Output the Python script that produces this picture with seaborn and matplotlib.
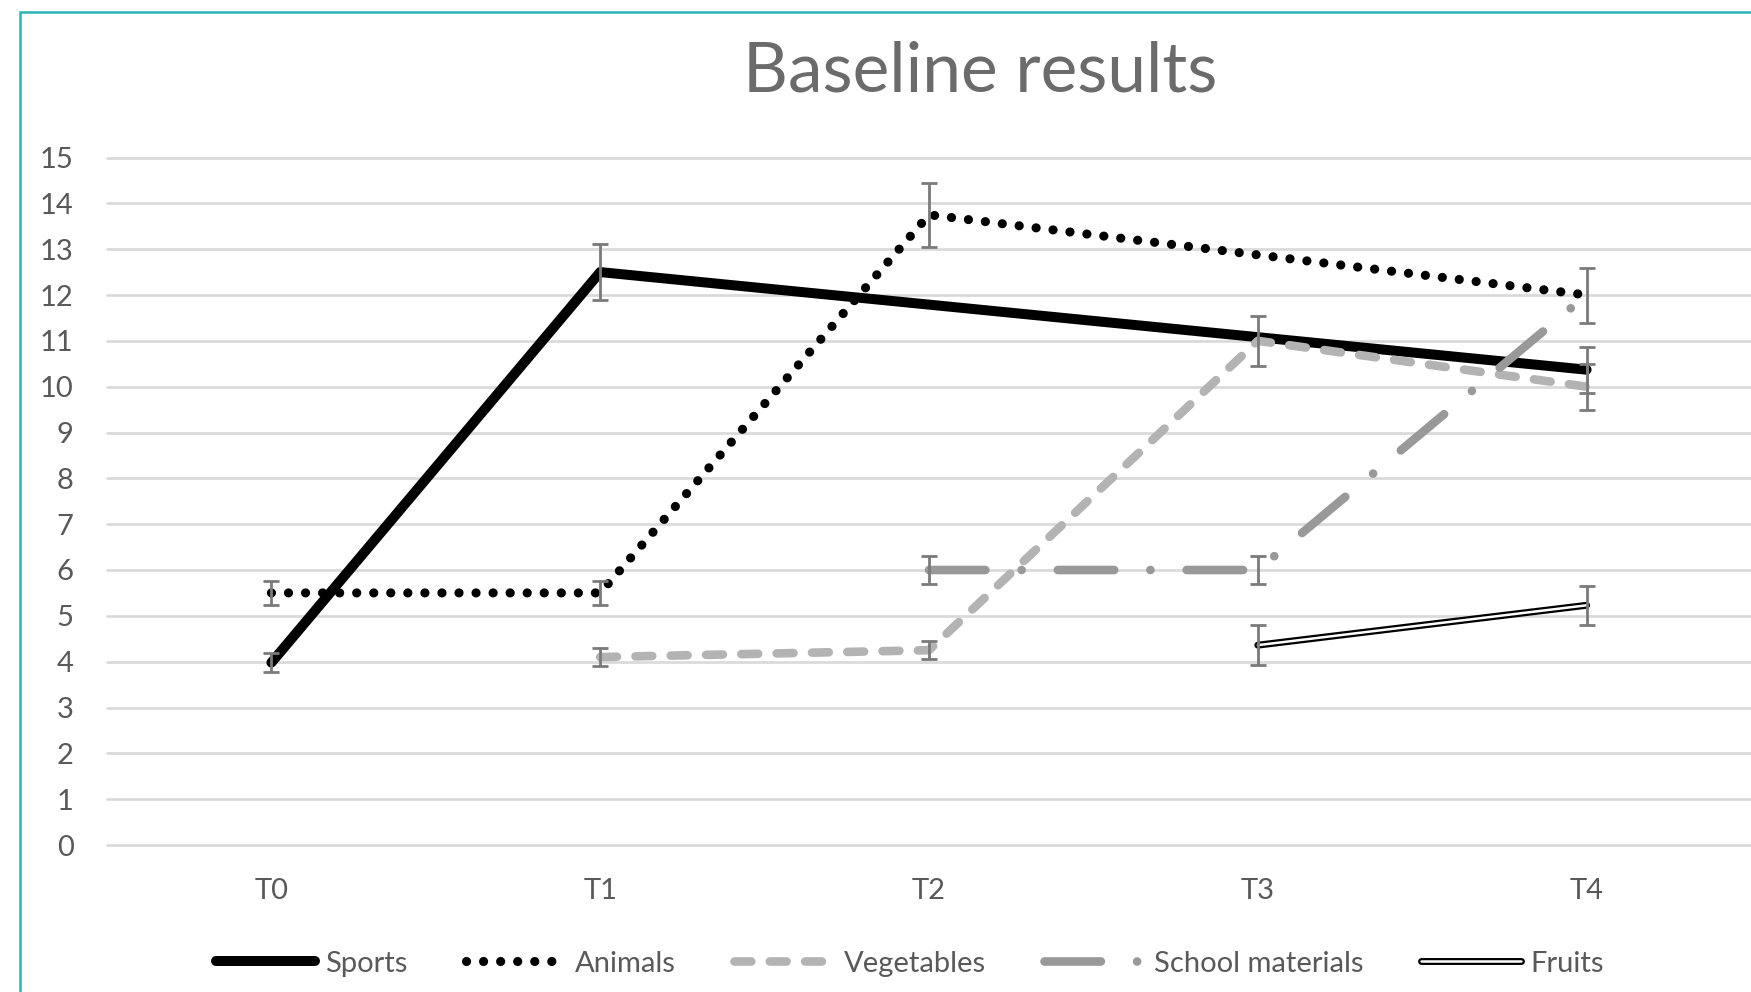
import numpy as np
import pandas as pd
import matplotlib
matplotlib.use("Agg")
import matplotlib.pyplot as plt
import matplotlib.patheffects as pe
from matplotlib.patches import Rectangle
import seaborn as sns

# valeurs
time_points = ["T0", "T1", "T2", "T3", "T4"]
sports = [3.98, 12.5, np.nan, np.nan, 10.37]
sports_err = [0.2, 0.62, np.nan, np.nan, 0.5]
animals = [5.5, 5.5, 13.75, np.nan, 12.0]
animals_err = [0.27, 0.27, 0.7, np.nan, 0.6]
vegetables = [np.nan, 4.1, 4.25, 11.0, 10.0]
vegetables_err = [np.nan, 0.2, 0.2, 0.54, 0.5]
school = [np.nan, np.nan, 6.0, 6.0, 12.0]
school_err = [np.nan, np.nan, 0.3, 0.3, np.nan]
fruits = [np.nan, np.nan, np.nan, 4.36, 5.23]
fruits_err = [np.nan, np.nan, np.nan, 0.43, 0.43]

W, H = 1751, 992
GREY_TXT = "#595959"

sns.set_theme(style="whitegrid")
plt.rcParams["font.family"] = ["Lato", "DejaVu Sans"]

fig = plt.figure(figsize=(W / 100, H / 100), dpi=100, facecolor="white")
ax = fig.add_axes([107 / W, 1 - 845 / H, 1 - 107 / W, (845 - 157.5) / H])
ax.set_facecolor("white")

series = [
    ("Sports", sports, sports_err,
     dict(color="black", linewidth=7.2, linestyle="-", solid_capstyle="round")),
    ("Animals", animals, animals_err,
     dict(color="black", linewidth=6.6, linestyle=(0, (0.01, 1.85)), dash_capstyle="round")),
    ("Vegetables", vegetables, vegetables_err,
     dict(color="#b3b3b3", linewidth=6.2, linestyle=(0, (1.95, 2.15)), dash_capstyle="round")),
    ("School materials", school, school_err,
     dict(color="#999999", linewidth=6.2, linestyle=(0, (6.55, 4.2, 0.01, 4.2)),
          dash_capstyle="round")),
    ("Fruits", fruits, fruits_err,
     dict(color="white", linewidth=1.8, linestyle="-", solid_capstyle="round",
          path_effects=[pe.Stroke(linewidth=5.0, foreground="black", capstyle="round"),
                        pe.Normal()])),
]

x = np.arange(len(time_points))
handles = []
for i, (name, vals, errs, style) in enumerate(series):
    d = pd.DataFrame({"x": x, "y": vals, "err": errs}).dropna(subset=["y"])
    z = 3 + i
    sns.lineplot(data=d, x="x", y="y", ax=ax, errorbar=None, legend=False,
                 zorder=z, **style)
    line = ax.lines[-1]
    line.set_label(name)
    handles.append(line)
    e = d.dropna(subset=["err"])
    ax.errorbar(e["x"], e["y"], yerr=e["err"], fmt="none", ecolor="#7a7a7a",
                elinewidth=2.0, capsize=6, capthick=2.0, zorder=z + 0.5)

ax.set_xlim(-0.5, 4.5)
ax.set_ylim(0, 15)
ax.set_xticks(x, time_points)
ax.set_yticks(range(16))
ax.set_xlabel("")
ax.set_ylabel("")
ax.grid(axis="x", visible=False)
ax.grid(axis="y", color="#d9d9d9", linewidth=1.9)
for gl in ax.get_ygridlines():
    gl.set_clip_on(False)
for sp in ax.spines.values():
    sp.set_visible(False)
ax.tick_params(axis="both", length=0, labelsize=21, labelcolor=GREY_TXT)
ax.tick_params(axis="y", pad=24)
ax.tick_params(axis="x", pad=24)

fig.text(980 / W, 1 - 91.5 / H, "Baseline results", ha="center", va="baseline",
         fontsize=50, color="#6b6b6b")

fig.legend(handles, [h.get_label() for h in handles], loc="center",
           bbox_to_anchor=(910 / W, 1 - 963.7 / H), ncol=5, frameon=False,
           fontsize=21, handlelength=3.4, handletextpad=0.35, columnspacing=2.0,
           labelcolor=GREY_TXT)

# cadre turquoise (seuls les bords haut et gauche sont visibles)
fig.add_artist(Rectangle((20 / W, -0.05), 1.2, 1.05 - 11.7 / H, transform=fig.transFigure,
                         fill=False, edgecolor="#2bb5b5", linewidth=1.8))

fig.savefig("out.png", dpi=100, facecolor="white")
